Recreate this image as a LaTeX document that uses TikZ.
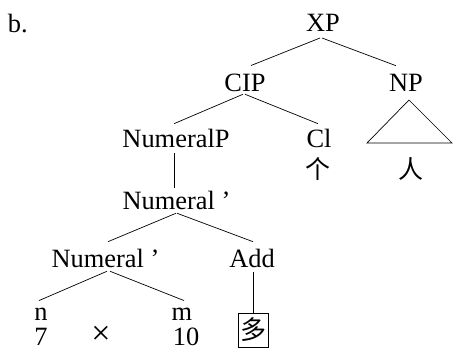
\documentclass[tikz,border=0pt]{standalone}
\usepackage{fontspec}
\setmainfont{Liberation Serif}
\newfontfamily\cjk{Noto Sans CJK SC}
\begin{document}
\begin{tikzpicture}[x=1pt,y=-1pt,
  lbl/.style={inner sep=0pt,outer sep=0pt,anchor=base,font=\fontsize{26.4}{30}\selectfont},
  han/.style={inner sep=0pt,outer sep=0pt,font=\fontsize{25}{28}\selectfont\cjk},
  branch/.style={line width=0.7pt},
  charbox/.style={draw,line width=0.8pt,minimum width=30pt,minimum height=34pt,inner sep=0pt,outer sep=0pt,font=\fontsize{26}{28}\selectfont\cjk}]
\useasboundingbox (0,0) rectangle (453,350);

% example label
\node[lbl,anchor=base west] (ex) at (8,33) {b.};

% tree nodes
\node[lbl] (xp)   at (323,32)  {XP};
\node[lbl] (cip)  at (245,92)  {CIP};
\node[lbl] (np)   at (406,92)  {NP};
\node[lbl] (nump) at (176,148) {NumeralP};
\node[lbl] (cl)   at (319,148) {Cl};
\node[han] (ge)   at (318,169) {个};
\node[han] (ren)  at (411,169) {人};
\node[lbl] (numa) at (176.5,210) {Numeral ’};
\node[lbl] (numb) at (105.5,268) {Numeral ’};
\node[lbl] (add)  at (252,268) {Add};
\node[lbl] (n)    at (41,320)  {n};
\node[lbl] (seven) at (41,345) {7};
\node[inner sep=0pt,font=\fontsize{34}{36}\selectfont] (times) at (101,335) {×};
\node[lbl] (m)    at (182,320) {m};
\node[lbl] (ten)  at (186,345) {10};
\node[charbox] (duo) at (253,330) {多};

% branches
\draw[branch] ([shift={(-3,6)}]xp.south) -- ([shift={(6,-9)}]cip.north);
\draw[branch] ([shift={(-1,6)}]xp.south) -- ([shift={(-10,-9)}]np.north);
\draw[branch] ([shift={(-2,2)}]cip.south) -- ([shift={(-2,-6)}]nump.north);
\draw[branch] ([shift={(0,2)}]cip.south) -- ([shift={(-1,-6)}]cl.north);
\draw[branch] ([shift={(-2,5)}]nump.south) -- ([shift={(-2.5,-4)}]numa.north);
\draw[branch] ([shift={(-0.5,3)}]numa.south) -- ([shift={(2.5,-8)}]numb.north);
\draw[branch] ([shift={(0.5,3)}]numa.south) -- ([shift={(1,-8)}]add.north);
\draw[branch] ([shift={(1.5,3)}]numb.south) -- ([shift={(-2,-7)}]n.north);
\draw[branch] ([shift={(4.5,3)}]numb.south) -- ([shift={(2,-7)}]m.north);
\draw[branch] ([shift={(1,4)}]add.south) -- (duo.north);

% NP roof
\draw[branch] ([shift={(3,8)}]np.south) -- (367,143) -- (452,143) -- cycle;
\end{tikzpicture}
\end{document}
